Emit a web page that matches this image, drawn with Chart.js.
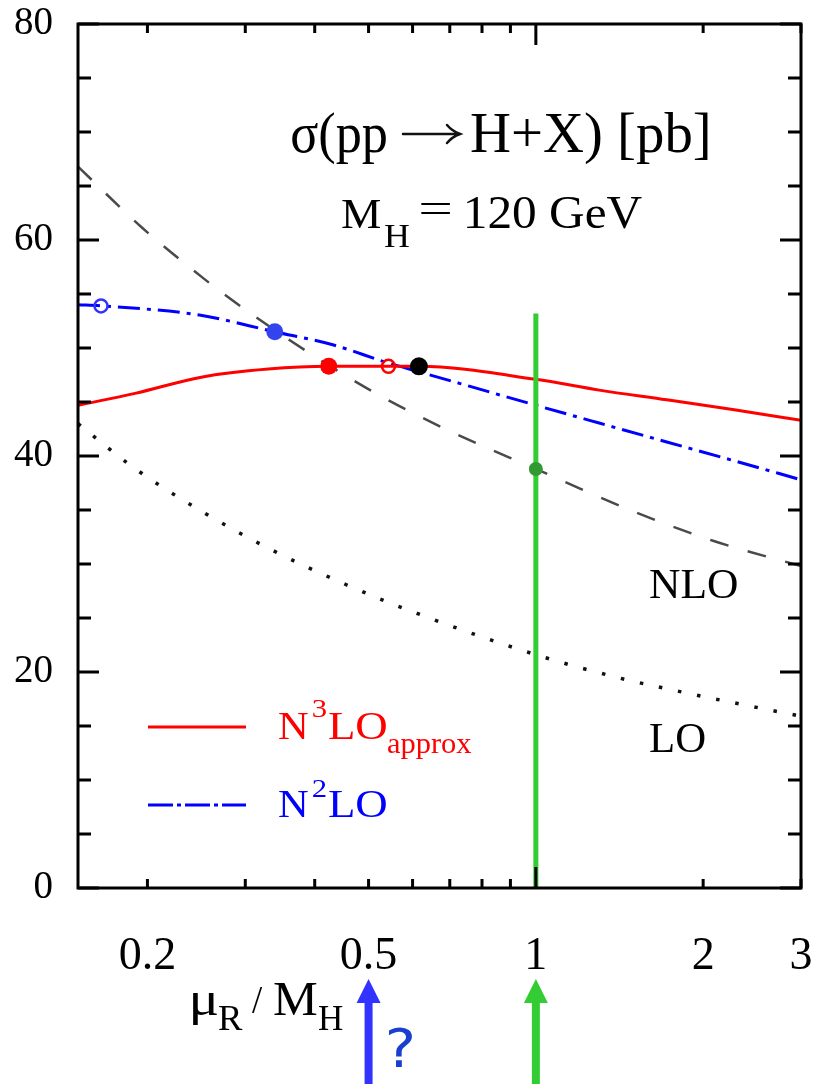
<!DOCTYPE html>
<html>
<head>
<meta charset="utf-8">
<title>Higgs cross section vs renormalisation scale</title>
<script src="https://cdn.jsdelivr.net/npm/chart.js@4/dist/chart.umd.min.js"></script>
<style>
  html, body { margin: 0; padding: 0; background: #ffffff; }
  canvas { display: block; }
</style>
</head>
<body>
<canvas id="c" width="813" height="1084"></canvas>
<script>
// ---- data: sigma(pp -> H+X) in pb versus mu_R / M_H ----
const n3loMu    = [0.15, 0.19, 0.25, 0.33, 0.424, 0.543, 0.616, 1.0, 1.3, 1.72, 2.26, 3.0];
const n3loSigma = [44.7, 45.8, 47.3, 48.05, 48.3, 48.3, 48.3, 47.1, 46.1, 45.2, 44.3, 43.3];

const n2loMu    = [0.15, 0.165, 0.248, 0.339, 0.431, 0.543, 0.616, 1.0, 1.3, 1.72, 2.26, 3.0];
const n2loSigma = [54.0, 53.9, 53.05, 51.5, 50.3, 48.6, 47.8, 44.7, 43.05, 41.3, 39.6, 37.8];

const nloMu     = [0.15, 0.195, 0.253, 0.29, 0.384, 0.511, 0.694, 1.0, 1.51, 2.07, 3.0];
const nloSigma  = [66.8, 61.2, 56.4, 54.1, 49.8, 45.9, 42.4, 38.8, 34.8, 32.2, 29.8];

const loMu      = [0.15, 0.188, 0.248, 0.332, 0.455, 0.613, 1.0, 1.4, 1.93, 3.0];
const loSigma   = [43.0, 39.0, 35.0, 31.4, 28.1, 25.4, 21.6, 19.5, 17.9, 15.9];

// highlighted scale choices
const openMarkMu      = [0.165, 0.543];
const openMarkSigma   = [53.9, 48.3];
const filledMarkMu    = [0.339, 0.424, 0.616, 1.0];
const filledMarkSigma = [51.5, 48.3, 48.3, 38.8];

// vertical reference at mu_R = M_H
const refLineMu    = [1, 1];
const refLineSigma = [53.2, 0];

// arrows under the axis
const arrowMu = [0.5, 1];

// axis ticks
const xTickValues  = [0.2, 0.3, 0.4, 0.5, 0.6, 0.7, 0.8, 0.9, 1, 2, 3];
const xLabelValues = [0.2, 0.5, 1, 2, 3];
const xMajorValues = [1];
const yLabelValues = [0, 20, 40, 60, 80];

const pts = (xs, ys) => xs.map((x, i) => ({ x: x, y: ys[i] }));

const SERIF = '"Liberation Serif", "Times New Roman", serif';
const RED = '#ff0000';
const BLUE = '#0000ff';

// text drawn with its ink fitted between two x positions
function fitText(ctx, text, left, right, baseline, size, color, family) {
  ctx.save();
  ctx.font = size + 'px ' + (family || SERIF);
  ctx.fillStyle = color;
  ctx.textAlign = 'left';
  ctx.textBaseline = 'alphabetic';
  const m = ctx.measureText(text);
  const ink = m.actualBoundingBoxLeft + m.actualBoundingBoxRight;
  const sx = right ? (right - left) / ink : 1;
  ctx.translate(left + m.actualBoundingBoxLeft * sx, baseline);
  ctx.scale(sx, 1);
  ctx.fillText(text, 0, 0);
  ctx.restore();
}

// scales keep a fixed footprint so the plot frame sits where it should
function fixedBox(size, isX) {
  return s => {
    if (isX) s.height = size; else s.width = size;
    s.paddingLeft = 0; s.paddingRight = 0; s.paddingTop = 0; s.paddingBottom = 0;
  };
}

const frameAndTicks = {
  id: 'frameAndTicks',
  afterDatasetsDraw(chart) {
    const { ctx, chartArea: a, scales } = chart;
    const xs = scales.x, ys = scales.y;
    ctx.save();
    ctx.strokeStyle = '#000';
    ctx.lineWidth = 3;
    ctx.lineCap = 'butt';
    ctx.beginPath();
    // inward ticks on left and right
    for (let v = ys.min; v <= ys.max; v += 5) {
      const py = ys.getPixelForValue(v);
      const len = yLabelValues.includes(v) ? 21 : 13;
      ctx.moveTo(a.left, py); ctx.lineTo(a.left + len, py);
      ctx.moveTo(a.right, py); ctx.lineTo(a.right - len, py);
    }
    // inward ticks on bottom and top
    xTickValues.forEach(v => {
      const px = xs.getPixelForValue(v);
      const len = xMajorValues.includes(v) ? 21 : 9;
      ctx.moveTo(px, a.bottom); ctx.lineTo(px, a.bottom - len);
      ctx.moveTo(px, a.top); ctx.lineTo(px, a.top + len);
    });
    ctx.stroke();
    ctx.strokeRect(a.left, a.top, a.right - a.left, a.bottom - a.top);
    ctx.restore();
  },
  afterDraw(chart) {
    const { ctx, scales } = chart;
    const xs = scales.x;

    // process label: sigma(pp -> H+X) [pb]
    fitText(ctx, 'σ(pp', 292, 386, 152, 56, '#000');
    ctx.save();
    ctx.strokeStyle = '#111';
    ctx.lineWidth = 2.5;
    ctx.lineCap = 'round';
    ctx.beginPath();
    ctx.moveTo(403, 134); ctx.lineTo(459, 134);
    ctx.moveTo(447, 125); ctx.quadraticCurveTo(452, 131, 460, 134);
    ctx.quadraticCurveTo(452, 137, 447, 143);
    ctx.stroke();
    ctx.restore();
    fitText(ctx, 'H+X) [pb]', 471, 708, 152, 56, '#000');

    // Higgs mass
    fitText(ctx, 'M', 342, 380, 228, 43, '#000');
    fitText(ctx, 'H', 384, 409, 247, 33, '#000');
    fitText(ctx, '=', 421, 451, 222, 43, '#000');
    fitText(ctx, '120 GeV', 467, 642, 228, 46, '#000');

    // curve names
    fitText(ctx, 'NLO', 650, 737, 598, 42, '#000');
    fitText(ctx, 'LO', 650, 705, 752, 43, '#000');

    // legend
    ctx.save();
    ctx.lineWidth = 3;
    ctx.strokeStyle = RED;
    ctx.beginPath(); ctx.moveTo(148, 727); ctx.lineTo(246, 727); ctx.stroke();
    ctx.strokeStyle = BLUE;
    ctx.setLineDash([25, 4, 4, 4]);
    ctx.beginPath(); ctx.moveTo(148, 805); ctx.lineTo(246, 805); ctx.stroke();
    ctx.restore();

    fitText(ctx, 'N', 279, 308, 739, 41, RED);
    fitText(ctx, '3', 313, 326, 717, 26, RED);
    fitText(ctx, 'LO', 329, 386, 739, 41, RED);
    fitText(ctx, 'approx', 388, 472, 753, 29, RED);

    fitText(ctx, 'N', 279, 308, 817, 41, BLUE);
    fitText(ctx, '2', 313, 326, 797, 26, BLUE);
    fitText(ctx, 'LO', 329, 386, 817, 41, BLUE);

    // axis title mu_R / M_H
    fitText(ctx, 'μ', 192, 217, 1015, 48, '#000');
    fitText(ctx, 'R', 219, 243, 1030, 35, '#000');
    fitText(ctx, '/', 252, 263, 1013, 40, '#000');
    fitText(ctx, 'M', 274, 317, 1015, 48, '#000');
    fitText(ctx, 'H', 319, 343, 1030, 35, '#000');

    // arrows pointing at scale choices
    const arrowColors = ['#3333ff', '#33cc33'];
    arrowMu.forEach((mu, i) => {
      const px = xs.getPixelForValue(mu);
      ctx.save();
      ctx.fillStyle = arrowColors[i];
      ctx.fillRect(px - 4, 1000, 8, 90);
      ctx.beginPath();
      ctx.moveTo(px, 979);
      ctx.lineTo(px + 12, 1003);
      ctx.lineTo(px - 12, 1003);
      ctx.closePath();
      ctx.fill();
      ctx.restore();
    });
    fitText(ctx, '?', 388, 412, 1067, 54, '#1a3fd0', '"DejaVu Sans", sans-serif');
  }
};

new Chart(document.getElementById('c'), {
  type: 'line',
  data: {
    datasets: [
      {
        label: 'filled marks',
        data: pts(filledMarkMu, filledMarkSigma),
        showLine: false,
        pointRadius: [8.5, 8.5, 9, 7],
        pointBackgroundColor: ['#3344ee', '#ff0000', '#000000', '#339933'],
        pointBorderWidth: 0,
        order: 0
      },
      {
        label: 'open marks',
        data: pts(openMarkMu, openMarkSigma),
        showLine: false,
        pointRadius: 6.5,
        pointBackgroundColor: 'rgba(255,255,255,0)',
        pointBorderColor: ['#3333ff', '#ff0000'],
        pointBorderWidth: 2.5,
        order: 1
      },
      {
        label: 'mu_R = M_H',
        data: pts(refLineMu, refLineSigma),
        borderColor: '#33cc33',
        borderWidth: 5,
        pointRadius: 0,
        tension: 0,
        order: 2
      },
      {
        label: 'N3LO approx',
        data: pts(n3loMu, n3loSigma),
        borderColor: RED,
        borderWidth: 3,
        pointRadius: 0,
        cubicInterpolationMode: 'monotone',
        order: 3
      },
      {
        label: 'N2LO',
        data: pts(n2loMu, n2loSigma),
        borderColor: BLUE,
        borderWidth: 3,
        borderDash: [22, 7, 4, 7],
        pointRadius: 0,
        cubicInterpolationMode: 'monotone',
        order: 4
      },
      {
        label: 'NLO',
        data: pts(nloMu, nloSigma),
        borderColor: '#4a4a4a',
        borderWidth: 2.5,
        borderDash: [19, 20],
        pointRadius: 0,
        cubicInterpolationMode: 'monotone',
        order: 5
      },
      {
        label: 'LO',
        data: pts(loMu, loSigma),
        borderColor: '#111111',
        borderWidth: 3.5,
        borderDash: [3.5, 16],
        pointRadius: 0,
        cubicInterpolationMode: 'monotone',
        order: 6
      }
    ]
  },
  options: {
    responsive: false,
    animation: false,
    events: [],
    layout: { padding: { top: 24, right: 12, left: 0, bottom: 0 } },
    plugins: { legend: { display: false }, tooltip: { enabled: false } },
    scales: {
      x: {
        type: 'logarithmic',
        position: 'bottom',
        min: 0.15,
        max: 3,
        afterBuildTicks: s => { s.ticks = xTickValues.map(v => ({ value: v })); },
        afterFit: fixedBox(196, true),
        grid: { display: false, drawTicks: false },
        border: { display: false },
        ticks: {
          autoSkip: false,
          maxRotation: 0,
          padding: 41,
          color: '#000',
          font: { family: SERIF, size: 46 },
          callback: v => xLabelValues.includes(v) ? String(v) : ''
        }
      },
      y: {
        type: 'linear',
        position: 'left',
        min: 0,
        max: 80,
        afterFit: fixedBox(78, false),
        grid: { display: false, drawTicks: false },
        border: { display: false },
        ticks: {
          stepSize: 5,
          autoSkip: false,
          padding: 25,
          color: '#000',
          font: { family: SERIF, size: 39 },
          callback: v => yLabelValues.includes(v) ? String(v) : ''
        }
      }
    }
  },
  plugins: [frameAndTicks]
});
</script>
</body>
</html>
